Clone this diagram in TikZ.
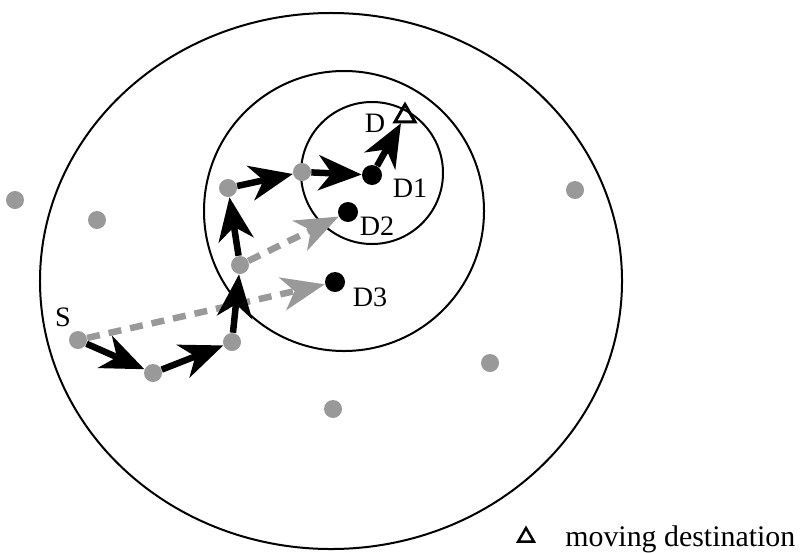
\documentclass[tikz,border=0pt]{standalone}
\usepackage{fontspec}
\setmainfont{Liberation Serif}
\usetikzlibrary{arrows.meta,shapes.geometric}
\definecolor{relaygray}{gray}{0.6}

\tikzset{
  ring/.style={line width=.4mm},
  relay/.style={circle,fill=relaygray,minimum size=3.6mm,inner sep=0pt},
  dest/.style={circle,fill=black,minimum size=4mm,inner sep=0pt},
  movdest/.style={regular polygon,regular polygon sides=3,draw,line width=.6mm,
    minimum size=4.6mm,inner sep=0pt},
  hop/.style={line width=1.3mm,-{Stealth[length=8.6mm,width=7mm,inset=2.6mm]}},
  direct/.style={relaygray,line width=1.3mm,dash pattern=on 2.6mm off 1.8mm,
    -{Stealth[length=8.6mm,width=6.6mm,inset=2.4mm]}},
  lbl/.style={font=\fontsize{16}{18}\selectfont,inner sep=0pt}
}

\begin{document}
\begin{tikzpicture}[x=.2mm,y=-.2mm]
\useasboundingbox (0,0) rectangle (807,552);
\draw [ring] (331,281) ellipse [x radius=58.2mm, y radius=53.6mm];
\draw [ring] (344,211) circle [radius=28mm];
\draw [ring] (372,173) circle [radius=14.2mm];

\node [relay] (n1) at (15,200) {};
\node [relay] (n2) at (97,220) {};
\node [relay] (n3) at (575,190) {};
\node [relay] (n4) at (490,363) {};
\node [relay] (n5) at (333,409) {};

\node [relay] (S) at (78,340) {};
\node [relay] (r1) at (153,373) {};
\node [relay] (r2) at (232,342) {};
\node [relay] (r3) at (240,265) {};
\node [relay] (r4) at (228,188) {};
\node [relay] (r5) at (302,172) {};
\node [dest] (D1) at (372,175) {};
\node [dest] (D2) at (348,212) {};
\node [dest] (D3) at (335,282) {};
\node [movdest] (D) at (405,116) {};

\node [lbl] (Slbl) at (63,317) {S};
\node [lbl] (Dlbl) at (375,123) {D};
\node [lbl] (D1lbl) at (410,188) {D1};
\node [lbl] (D2lbl) at (377,226) {D2};
\node [lbl] (D3lbl) at (370,297) {D3};

\draw [direct] (S) -- (D3);
\draw [direct] (r3) -- (D2);

\draw [hop] (S) -- (r1);
\draw [hop] (r1) -- (r2);
\draw [hop] (r2) -- (r3);
\draw [hop] (r3) -- (r4);
\draw [hop] (r4) -- (r5);
\draw [hop] (r5) -- (D1);
\draw [hop] (D1) -- (D);

\node [movdest,minimum size=3.6mm,line width=.5mm] (key) at (526,537) {};
\node [lbl,font=\fontsize{17}{20}\selectfont,anchor=base west] (keylbl) at (565,546) {moving destination};
\end{tikzpicture}
\end{document}
